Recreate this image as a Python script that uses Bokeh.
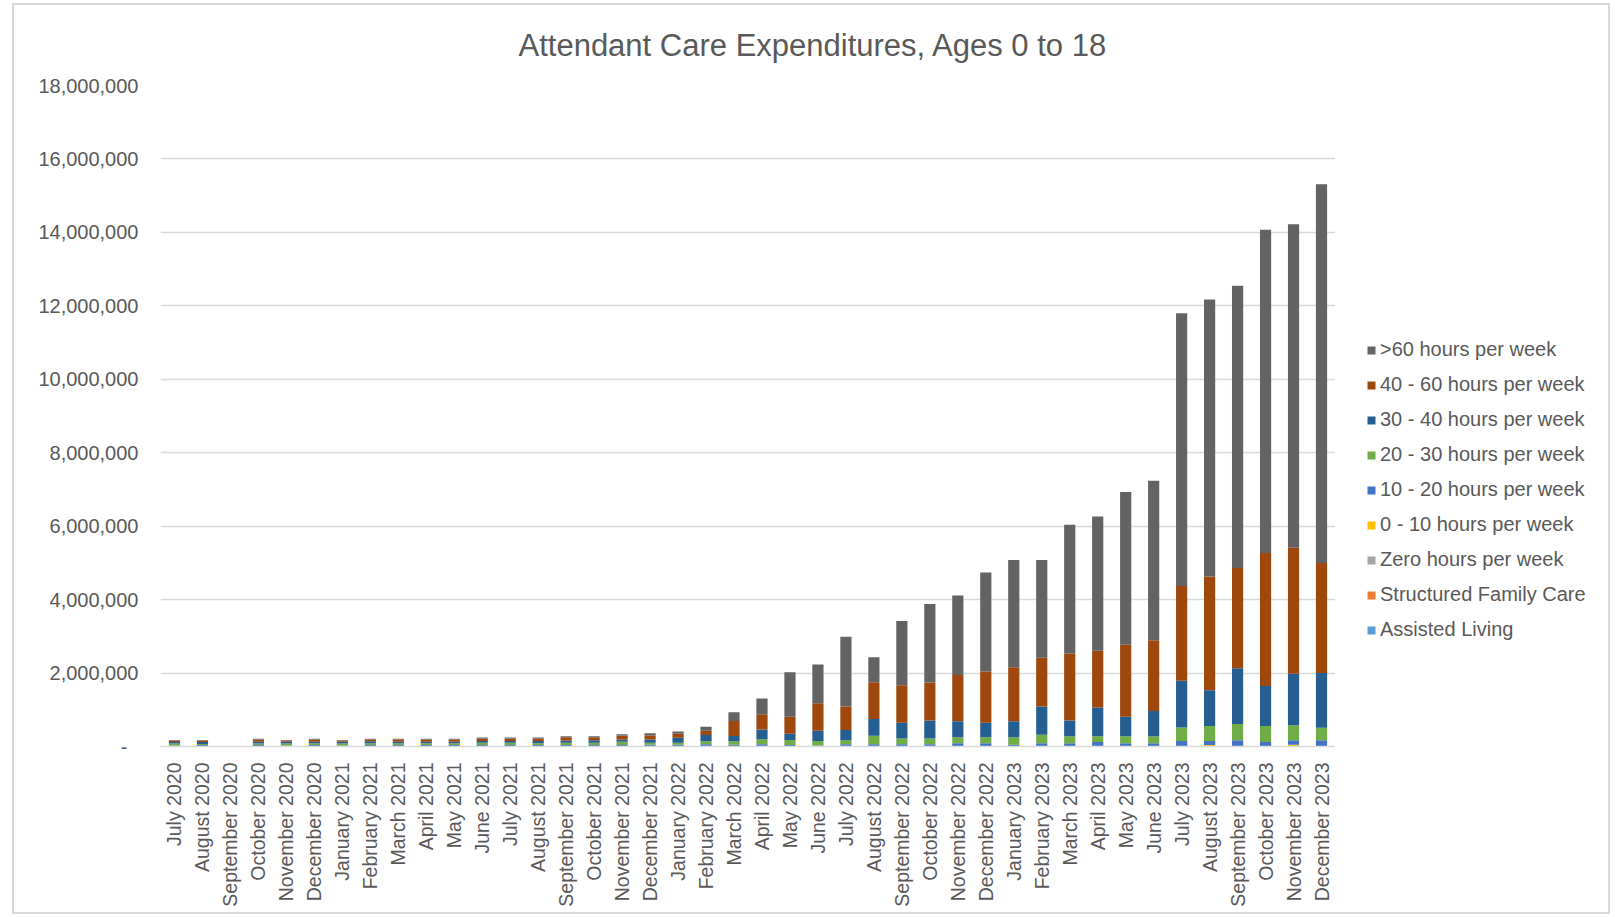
from bokeh.plotting import figure
from bokeh.layouts import row
from bokeh.models import (ColumnDataSource, FactorRange, Range1d, FixedTicker,
                          NumeralTickFormatter, Legend, LegendItem)
from bokeh.embed import file_html
from bokeh.resources import INLINE

months = [
    "July 2020", "August 2020", "September 2020", "October 2020", "November 2020", "December 2020",
    "January 2021", "February 2021", "March 2021", "April 2021", "May 2021", "June 2021",
    "July 2021", "August 2021", "September 2021", "October 2021", "November 2021", "December 2021",
    "January 2022", "February 2022", "March 2022", "April 2022", "May 2022", "June 2022",
    "July 2022", "August 2022", "September 2022", "October 2022", "November 2022", "December 2022",
    "January 2023", "February 2023", "March 2023", "April 2023", "May 2023", "June 2023",
    "July 2023", "August 2023", "September 2023", "October 2023", "November 2023", "December 2023",
]

assisted_living = [0] * 42
structured_family_care = [0] * 42
zero_hours = [0] * 42
h0_10 = [0, 0, 0, 0, 0, 0, 0, 0, 0, 0, 0, 0, 0, 0, 0, 0, 0, 0, 0, 0, 0,
         0, 0, 0, 0, 0, 0, 0, 0, 0, 0, 0, 0, 0, 0, 0, 0, 40000, 0, 0, 50000, 0]
h10_20 = [30000, 40000, 0, 40000, 30000, 40000, 30000, 40000, 40000, 40000, 40000, 40000,
          40000, 40000, 40000, 40000, 40000, 50000, 50000, 60000, 45000, 60000, 40000, 30000,
          60000, 60000, 60000, 60000, 90000, 90000, 50000, 90000, 90000, 120000, 90000, 90000,
          150000, 110000, 170000, 120000, 120000, 170000]
h20_30 = [50000, 30000, 0, 40000, 50000, 50000, 50000, 50000, 50000, 50000, 50000, 60000,
          60000, 50000, 60000, 60000, 90000, 50000, 50000, 80000, 100000, 140000, 140000, 120000,
          110000, 230000, 160000, 160000, 160000, 160000, 200000, 230000, 190000, 160000, 190000, 190000,
          370000, 410000, 440000, 440000, 410000, 340000]
h30_40 = [40000, 50000, 0, 50000, 50000, 40000, 50000, 50000, 40000, 40000, 40000, 50000,
          50000, 60000, 60000, 70000, 60000, 90000, 140000, 170000, 140000, 260000, 170000, 280000,
          280000, 460000, 430000, 490000, 440000, 400000, 440000, 770000, 430000, 780000, 530000, 690000,
          1270000, 970000, 1520000, 1090000, 1400000, 1490000]
h40_60 = [40000, 40000, 0, 60000, 30000, 60000, 30000, 50000, 60000, 60000, 60000, 70000,
          70000, 70000, 90000, 80000, 110000, 110000, 110000, 120000, 410000, 420000, 460000, 750000,
          640000, 1000000, 1020000, 1030000, 1260000, 1390000, 1470000, 1330000, 1820000, 1550000, 1960000, 1920000,
          2580000, 3100000, 2730000, 3620000, 3430000, 3000000]
h60_plus = [20000, 20000, 0, 20000, 20000, 20000, 20000, 20000, 20000, 20000, 20000, 25000,
            25000, 25000, 30000, 30000, 35000, 60000, 60000, 110000, 240000, 430000, 1210000, 1050000,
            1900000, 680000, 1750000, 2140000, 2160000, 2700000, 2920000, 2660000, 3510000, 3650000, 4160000, 4350000,
            7430000, 7540000, 7690000, 8800000, 8810000, 10310000]

series_names = ["Assisted Living", "Structured Family Care", "Zero hours per week",
                "0 - 10 hours per week", "10 - 20 hours per week", "20 - 30 hours per week",
                "30 - 40 hours per week", "40 - 60 hours per week", ">60 hours per week"]
series_values = [assisted_living, structured_family_care, zero_hours, h0_10, h10_20,
                 h20_30, h30_40, h40_60, h60_plus]
colors = ["#5B9BD5", "#ED7D31", "#A5A5A5", "#FFC000", "#4472C4", "#70AD47",
          "#255E91", "#9E480E", "#636363"]
y_ticks = [0, 2000000, 4000000, 6000000, 8000000, 10000000, 12000000, 14000000, 16000000, 18000000]

data = {"month": months}
for name, vals in zip(series_names, series_values):
    data[name] = vals
source = ColumnDataSource(data)

FONT = "Liberation Sans"
TEXT = "#595959"

# main chart
p = figure(x_range=FactorRange(*months), y_range=Range1d(0, 18000000),
           width=1321, height=907, output_backend="svg", toolbar_location=None,
           min_border_left=146, min_border_right=0, min_border_top=80, min_border_bottom=166)

renderers = p.vbar_stack(series_names, x="month", width=0.4, color=colors, source=source,
                         line_color=None)

p.title.text = "Attendant Care Expenditures, Ages 0 to 18"
p.title.align = "left"
p.title.offset = 358
p.title.vertical_align = "top"
p.title.text_font = FONT
p.title.text_font_size = "31px"
p.title.text_font_style = "normal"
p.title.text_color = TEXT
p.title.standoff = 42

p.outline_line_color = None
p.background_fill_color = "white"
p.border_fill_color = "white"

p.xgrid.grid_line_color = None
p.ygrid.grid_line_color = "#d9d9d9"
p.ygrid.grid_line_width = 1.5
p.yaxis.ticker = FixedTicker(ticks=y_ticks)
p.yaxis.formatter = NumeralTickFormatter(format="0,0")
p.yaxis.major_label_overrides = {0: "-\u00a0\u00a0"}
p.yaxis.axis_line_color = None
p.yaxis.major_tick_line_color = None
p.yaxis.minor_tick_line_color = None
p.yaxis.major_label_text_font = FONT
p.yaxis.major_label_text_font_size = "20px"
p.yaxis.major_label_text_color = TEXT
p.yaxis.major_label_standoff = 16

p.xaxis.axis_line_color = "#d9d9d9"
p.xaxis.axis_line_width = 1.5
p.xaxis.major_tick_line_color = None
p.xaxis.minor_tick_line_color = None
p.xaxis.major_label_orientation = 1.5707963267948966
p.xaxis.major_label_text_font = FONT
p.xaxis.major_label_text_font_size = "19.5px"
p.xaxis.major_label_text_color = TEXT
p.xaxis.major_label_standoff = 10
p.x_range.range_padding = 0

# legend panel: hidden swatch renderers (same data) supply the legend glyphs
pl = figure(width=273, height=907, output_backend="svg", toolbar_location=None,
            x_axis_type=None, y_axis_type=None,
            x_range=FactorRange(*months), y_range=Range1d(100000000, 200000000),
            min_border_left=31, min_border_right=0, min_border_top=80, min_border_bottom=166)
pl.outline_line_color = None
pl.background_fill_color = "white"
pl.border_fill_color = "white"
pl.grid.visible = False
swatches = pl.vbar_stack(series_names, x="month", width=0.4, color=colors, source=source,
                         line_color=None)
for r in swatches:
    r.visible = False

items = [LegendItem(label=n, renderers=[r]) for n, r in zip(series_names, swatches)][::-1]
legend = Legend(items=items, location=(0, 105), padding=0, margin=0, spacing=12,
                glyph_width=10, glyph_height=10, label_height=20, label_standoff=4,
                label_text_font=FONT, label_text_font_size="20px", label_text_color=TEXT,
                border_line_color=None, background_fill_alpha=0,
                click_policy="none", inactive_fill_alpha=0)
pl.add_layout(legend, "center")

layout = row(p, pl)
layout.margin = (5, 0, 0, 14)
layout.styles = {"outline": "2px solid #d9d9d9"}

open("out.html", "w").write(file_html(layout, INLINE))
